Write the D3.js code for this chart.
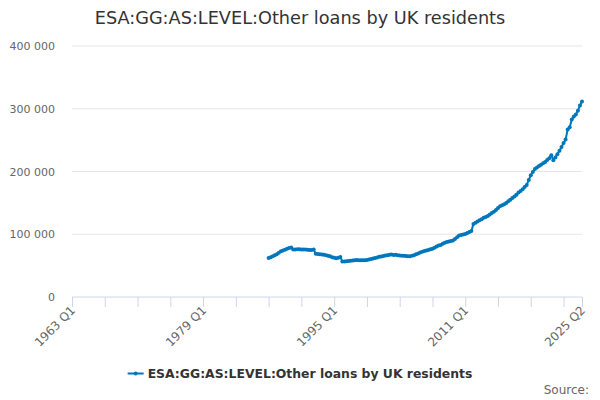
<!DOCTYPE html>
<html>
<head>
<meta charset="utf-8">
<script src="https://cdn.jsdelivr.net/npm/d3@7"></script>
<style>
  body { margin: 0; background: #fff; }
  text { font-family: "DejaVu Sans", sans-serif; }
</style>
</head>
<body>
<div id="chart"></div>
<script>
// quarterly series, starts 1987 Q1, ends 2025 Q2
var startYear = 1987;
var values = [
  62000, 63200, 64800, 66500, 68300,
  70600, 72900, 74100, 75300,
  76800, 77900, 78700,
  75600, 75800, 76100, 75900,
  75700, 75500, 75600, 75200,
  75000, 74800, 75500, 69000,
  68600, 68000, 67700, 67200,
  66400, 65800, 64900, 63300,
  62400, 61800, 62500, 63800,
  56400, 56600, 56900, 57200,
  57800, 58200, 58600, 58900,
  58400, 58500, 58700, 58600,
  59000, 59800, 60600, 61400,
  62300, 63100, 64000, 64700,
  65300, 66000, 66600, 67400,
  67600, 66900, 67300, 66500,
  66200, 65800, 65600, 65300,
  65100, 65000, 65600, 66500,
  68100, 69400, 70800, 72000,
  73200, 74100, 75000, 76000,
  77000, 78500, 80300, 82000,
  83000, 84800, 86600, 87800,
  88400, 89100, 90000, 92500,
  95400, 98000, 98900, 99600,
  100500, 101800, 103600, 105300,
  116500, 118400, 120300, 122300,
  124000, 126100, 127500, 129000,
  131500, 133800, 135900, 138600,
  141800, 144700, 146200, 147900,
  150000, 152600, 155100, 157700,
  160200, 163100, 166400, 168900,
  171600, 175200, 178600, 186500,
  194000, 199300, 203800, 206500,
  208700, 210900, 213000, 215200,
  218400, 221000, 226000, 218000,
  222500, 227500, 233000, 239000,
  245500, 251000, 267000, 270500,
  283000, 287500, 291000, 297000,
  305000, 311500
];
var yTicks = [0, 100000, 200000, 300000, 400000];
var xLabels = ["1963 Q1", "1979 Q1", "1995 Q1", "2011 Q1", "2025 Q2"];
var title = "ESA:GG:AS:LEVEL:Other loans by UK residents";
var seriesName = "ESA:GG:AS:LEVEL:Other loans by UK residents";

// quarter index counted from 1963 Q1
function qIndex(label) {
  var p = label.split(" Q");
  return (+p[0] - 1963) * 4 + (+p[1] - 1);
}
var offset = (startYear - 1963) * 4;
var data = values.map(function(v, i) { return {q: offset + i, v: v}; });

var W = 600, H = 400;
var margin = {top: 46, right: 18, bottom: 103, left: 72};
var width = W - margin.left - margin.right,
    height = H - margin.top - margin.bottom;

var svg = d3.select("#chart").append("svg")
    .attr("width", W).attr("height", H);

var g = svg.append("g")
    .attr("transform", "translate(" + margin.left + "," + margin.top + ")");

var lastQ = qIndex("2025 Q2");
var x = d3.scaleLinear().domain([0, lastQ]).range([0, width]);
var y = d3.scaleLinear().domain([0, 400000]).range([height, 0]);

// gridlines
g.append("g").selectAll("line")
  .data(yTicks.slice(1))
  .join("line")
    .attr("x1", 0).attr("x2", width)
    .attr("y1", d => y(d)).attr("y2", d => y(d))
    .attr("stroke", "#e6e6e6");

// y labels
var fmt = d => d3.format(",")(d).replace(/,/g, " ");
g.append("g").selectAll("text")
  .data(yTicks)
  .join("text")
    .attr("x", -17)
    .attr("y", d => y(d) + 4)
    .attr("text-anchor", "end")
    .attr("font-size", 11)
    .attr("fill", "#666")
    .text(fmt);

// x axis: ticks every 4 years, plus end
var tickQs = d3.range(0, lastQ, 16).concat([lastQ]);
var xAxisG = g.append("g").attr("transform", "translate(0," + height + ")");
xAxisG.append("line")
    .attr("x1", 0).attr("x2", width)
    .attr("stroke", "#ccd6eb");
xAxisG.selectAll("line.tick")
  .data(tickQs)
  .join("line")
    .attr("class", "tick")
    .attr("x1", d => x(d) + 0.5).attr("x2", d => x(d) + 0.5)
    .attr("y1", 0).attr("y2", 10)
    .attr("stroke", "#ccd6eb");
xAxisG.selectAll("text")
  .data(xLabels)
  .join("text")
    .attr("text-anchor", "end")
    .attr("font-size", 12)
    .attr("fill", "#666")
    .attr("transform", d => "translate(" + (x(qIndex(d)) + 4) + ",14) rotate(-45)")
    .text(d => d);

// line + markers
var color = "#0077bb";
g.append("path")
    .datum(data)
    .attr("fill", "none")
    .attr("stroke", color)
    .attr("stroke-width", 2)
    .attr("stroke-linejoin", "round")
    .attr("d", d3.line().x(d => x(d.q)).y(d => y(d.v)));
g.append("g").selectAll("circle")
  .data(data)
  .join("circle")
    .attr("cx", d => x(d.q))
    .attr("cy", d => y(d.v))
    .attr("r", 2)
    .attr("fill", color);

// title
svg.append("text")
    .attr("x", W / 2).attr("y", 24)
    .attr("text-anchor", "middle")
    .attr("font-size", 17.7)
    .attr("fill", "#333")
    .text(title);

// legend
var leg = svg.append("g");
var legText = leg.append("text")
    .attr("y", 378)
    .attr("font-size", 12.4)
    .attr("font-weight", "bold")
    .attr("fill", "#333")
    .text(seriesName);
var tw = legText.node().getComputedTextLength();
var lx = W / 2 - (tw + 20) / 2;
legText.attr("x", lx + 20);
leg.append("line")
    .attr("x1", lx).attr("x2", lx + 16)
    .attr("y1", 373.5).attr("y2", 373.5)
    .attr("stroke", color).attr("stroke-width", 2);
leg.append("circle")
    .attr("cx", lx + 8).attr("cy", 373.5).attr("r", 2)
    .attr("fill", color);

// source credit
svg.append("text")
    .attr("x", 589).attr("y", 394)
    .attr("text-anchor", "end")
    .attr("font-size", 12)
    .attr("fill", "#666")
    .text("Source:");
</script>
</body>
</html>
